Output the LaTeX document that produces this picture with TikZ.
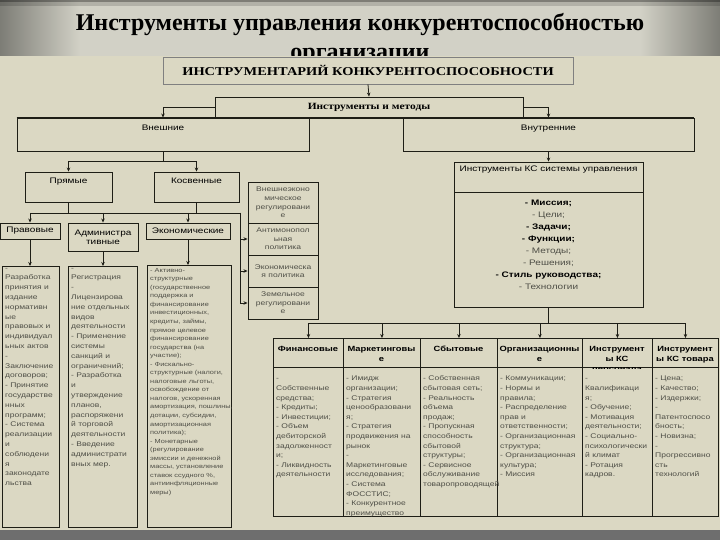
\documentclass[tikz,border=0pt]{standalone}
\usepackage{fontspec}
\setmainfont{Liberation Serif}
\newfontfamily\dgfont[FakeStretch=1.25]{Liberation Sans}
\newfontfamily\hdfont[FakeStretch=1.2]{Liberation Serif}
\usetikzlibrary{arrows.meta,positioning}
\definecolor{kslide}{RGB}{210,209,198}
\definecolor{kedge}{RGB}{125,125,118}
\definecolor{kpaper}{RGB}{219,216,195}
\definecolor{kline}{RGB}{30,30,22}
\definecolor{ktext}{RGB}{78,78,70}
\definecolor{kstrip}{RGB}{170,170,170}
\definecolor{kstripd}{RGB}{110,110,110}
\tikzset{
  ttl/.style   ={inner sep=0pt, font=\bfseries\fontsize{24}{30}\selectfont},
  kframe/.style={rectangle, draw=kline, line width=0.9pt, inner sep=0pt},
  box/.style   ={kframe, align=center, font=\dgfont\fontsize{8}{9}\selectfont},
  sbox/.style  ={kframe, align=center, text=ktext, font=\dgfont\fontsize{6.8}{8.6}\selectfont},
  hcell/.style ={anchor=north, align=center, inner sep=0pt,
                 font=\dgfont\bfseries\fontsize{7.5}{10}\selectfont},
  col/.style   ={anchor=north west, align=left, inner sep=0pt, text=ktext,
                 font=\dgfont\fontsize{6.8}{9.8}\selectfont},
  tcol/.style  ={col, font=\dgfont\fontsize{6.8}{9.6}\selectfont},
  ecol/.style  ={col, font=\dgfont\fontsize{5.9}{8.55}\selectfont},
  ar/.style    ={-{Stealth[length=4pt,width=3.5pt]}, draw=kline, line width=0.8pt},
  ln/.style    ={draw=kline, line width=0.8pt}
}
\begin{document}
\begin{tikzpicture}[x=1pt,y=-1pt]
\useasboundingbox (0,0) rectangle (720,540);
\fill[kslide] (0,0) rectangle (720,540);
\shade[left color=kedge, right color=kslide] (0,0) rectangle (80,540);
\shade[left color=kslide, right color=kedge] (640,0) rectangle (720,540);
\fill[black, opacity=.4] (0,0) rectangle (720,2.5);
\fill[black, opacity=.15] (0,2.5) rectangle (720,6);
\node[ttl, anchor=base] (title) at (360,31) {Инструменты управления конкурентоспособностью};
\node[ttl, anchor=base] (title2) at (360,60) {организации};
\fill[kpaper] (0,56) rectangle (720,530);
\shade[left color=kstripd, middle color=kstrip, right color=kstripd] (0,530) rectangle (720,540);

\node[kframe, draw=black!50, minimum width=410, minimum height=27,
  font=\hdfont\bfseries\fontsize{12}{14}\selectfont] (kit) at (368,70.5)
  {ИНСТРУМЕНТАРИЙ КОНКУРЕНТОСПОСОБНОСТИ};
\node[kframe, minimum width=308, minimum height=21,
  font=\hdfont\bfseries\fontsize{9.5}{11}\selectfont] (meth) at (369,107.5)
  {Инструменты и методы};
\node[box, minimum width=292, minimum height=33] (ext) at (163,134.5) {Внешние\\[4pt]\mbox{}};
\node[box, minimum width=291, minimum height=33] (int) at (548.5,134.5) {Внутренние\\[4pt]\mbox{}};
\draw[kline, line width=1.8pt] (ext.north west) -- (int.north east);
\draw[ar] (kit.south) -- (meth.north);
\draw[ar] (meth.west) -| (ext.north);
\draw[ar] (meth.east) -| (int.north);

\node[box, minimum width=87, minimum height=30] (dir) at (68.5,187) {Прямые\\[3pt]\mbox{}};
\node[box, minimum width=85, minimum height=30] (ind) at (196.5,187) {Косвенные\\[3pt]\mbox{}};
\coordinate (j1) at (163,161);
\draw[ln] (ext.south) -- (j1);
\draw[ar] (j1) -| (dir.north);
\draw[ar] (j1) -| (ind.north);

\node[box, minimum width=60, minimum height=16] (law) at (30,231) {Правовые};
\node[box, minimum width=70, minimum height=28] (adm) at (103,237) {Администра\\тивные};
\node[box, minimum width=84, minimum height=16] (eco) at (188,231) {Экономические};
\coordinate (b1) at (30,213);
\coordinate (b4) at (240,213);
\draw[ln] (b1) -- (b4);
\draw[ln] (dir.south) -- (dir.south |- b1);
\draw[ln] (ind.south) -- (ind.south |- b1);
\draw[ar] (b1) -- (law.north);
\draw[ar] (adm.north |- b1) -- (adm.north);
\draw[ar] (eco.north |- b1) -- (eco.north);

\node[sbox, minimum width=70, minimum height=41] (fe) at (283,202.5) {Внешнеэконо\\мическое\\регулировани\\е};
\node[sbox, minimum width=70, minimum height=32] (am) at (283,239) {Антимонопол\\ьная\\политика};
\node[sbox, minimum width=70, minimum height=32] (ep) at (283,271) {Экономическа\\я политика};
\node[sbox, minimum width=70, minimum height=32] (lr) at (283,303) {Земельное\\регулировани\\е};
\draw[ar] (b4) |- (am.west);
\draw[ar] (b4) |- (ep.west);
\draw[ar] (b4) |- (lr.west);

\node[kframe, minimum width=57, minimum height=261, anchor=north west] (lawbox) at (2,266) {};
\node[col] (lawtx) at (5,263) {-\strut\\Разработка\\принятия и\\издание\\нормативн\\ые\\правовых и\\индивидуал\\ьных актов\\-\\Заключение\\договоров;\\- Принятие\\государстве\\нных\\программ;\\- Система\\реализации\\и\\соблюдени\\я\\законодате\\льства};
\node[kframe, minimum width=69, minimum height=261, anchor=north west] (admbox) at (68,266) {};
\node[col] (admtx) at (71,263) {-\strut\\Регистрация\\-\\Лицензирова\\ние отдельных\\видов\\деятельности\\- Применение\\системы\\санкций и\\ограничений;\\- Разработка\\и\\утверждение\\планов,\\распоряжени\\й торговой\\деятельности\\- Введение\\администрати\\вных мер.};
\node[kframe, minimum width=84, minimum height=262, anchor=north west] (ecobox) at (147,265) {};
\node[ecol] (ecotx) at (150,266) {\strut- Активно-\\структурные\\(государственное\\поддержка и\\финансирование\\инвестиционных,\\кредиты, займы,\\прямое целевое\\финансирование\\государства (на\\участие);\\- Фискально-\\структурные (налоги,\\налоговые льготы,\\освобождение от\\налогов, ускоренная\\амортизация, пошлины,\\дотации, субсидии,\\амортизационная\\политика);\\- Монетарные\\(регулирование\\эмиссии и денежной\\массы, установление\\ставок ссудного \%,\\антиинфляционные\\меры)};
\draw[ar] (law.south) -- (law.south |- lawbox.north);
\draw[ar] (adm.south) -- (adm.south |- admbox.north);
\draw[ar] (eco.south) -- (eco.south |- ecobox.north);

\node[box, minimum width=189, minimum height=30] (bbh) at (548.5,177) {Инструменты КС системы управления\\[7pt]\mbox{}};
\node[box, minimum width=189, minimum height=115, font=\dgfont\fontsize{8}{12}\selectfont] (bb) at (548.5,249.5)
  {\textbf{- Миссия;}\\\textcolor{ktext}{- Цели;}\\\textbf{- Задачи;}\\\textbf{- Функции;}\\\textcolor{ktext}{- Методы;}\\\textcolor{ktext}{- Решения;}\\\textbf{- Стиль руководства;}\\\textcolor{ktext}{- Технологии}\\[-3pt]\mbox{}};
\draw[ar] (int.south) -- (bbh.north);

\node[kframe, minimum width=70, minimum height=178, anchor=north west] (c1) at (273,338) {};
\node[kframe, minimum width=77, minimum height=178, anchor=north west] (c2) at (343,338) {};
\node[kframe, minimum width=77, minimum height=178, anchor=north west] (c3) at (420,338) {};
\node[kframe, minimum width=85, minimum height=178, anchor=north west] (c4) at (497,338) {};
\node[kframe, minimum width=70, minimum height=178, anchor=north west] (c5) at (582,338) {};
\node[kframe, minimum width=66, minimum height=178, anchor=north west] (c6) at (652,338) {};
\draw[ln] (c1.north west) ++(0,29) -- ++(445,0);
\node[hcell] (h1) at (308,344.5) {\strut Финансовые};
\node[hcell] (h2) at (381.5,344.5) {\strut Маркетинговы\\е};
\node[hcell] (h3) at (458.5,344.5) {\strut Сбытовые};
\node[hcell] (h4) at (539.5,344.5) {\strut Организационны\\е};
\begin{scope}
\clip (582,338) rectangle (652,368);
\node[hcell] (h5) at (617,344.5) {\strut Инструмент\\ы КС\\персонала};
\end{scope}
\node[hcell] (h6) at (685,344.5) {\strut Инструмент\\ы КС товара};
\coordinate (j3) at (548.5,323);
\draw[ln] (bb.south) -- (j3);
\foreach \c in {c1,c2,c3,c4,c5,c6}
  \draw[ar] (j3) -| (\c.north);

\node[tcol] (t1) at (276,374) {-\strut\\Собственные\\средства;\\- Кредиты;\\- Инвестиции;\\- Объем\\дебиторской\\задолженност\\и;\\- Ликвидность\\деятельности};
\node[tcol] (t2) at (346,374) {\strut- Имидж\\организации;\\- Стратегия\\ценообразовани\\я;\\- Стратегия\\продвижения на\\рынок\\-\\Маркетинговые\\исследования;\\- Система\\ФОССТИС;\\- Конкурентное\\преимущество};
\node[tcol] (t3) at (423,374) {\strut- Собственная\\сбытовая сеть;\\- Реальность\\объема\\продаж;\\- Пропускная\\способность\\сбытовой\\структуры;\\- Сервисное\\обслуживание\\товаропроводящей};
\node[tcol] (t4) at (500,374) {\strut- Коммуникации;\\- Нормы и\\правила;\\- Распределение\\прав и\\ответственности;\\- Организационная\\структура;\\- Организационная\\культура;\\- Миссия};
\node[tcol] (t5) at (585,374) {-\strut\\Квалификаци\\я;\\- Обучение;\\- Мотивация\\деятельности;\\- Социально-\\психологически\\й климат\\- Ротация\\кадров.};
\node[tcol] (t6) at (655,374) {\strut- Цена;\\- Качество;\\- Издержки;\\-\\Патентоспосо\\бность;\\- Новизна;\\-\\Прогрессивно\\сть\\технологий};
\end{tikzpicture}
\end{document}
